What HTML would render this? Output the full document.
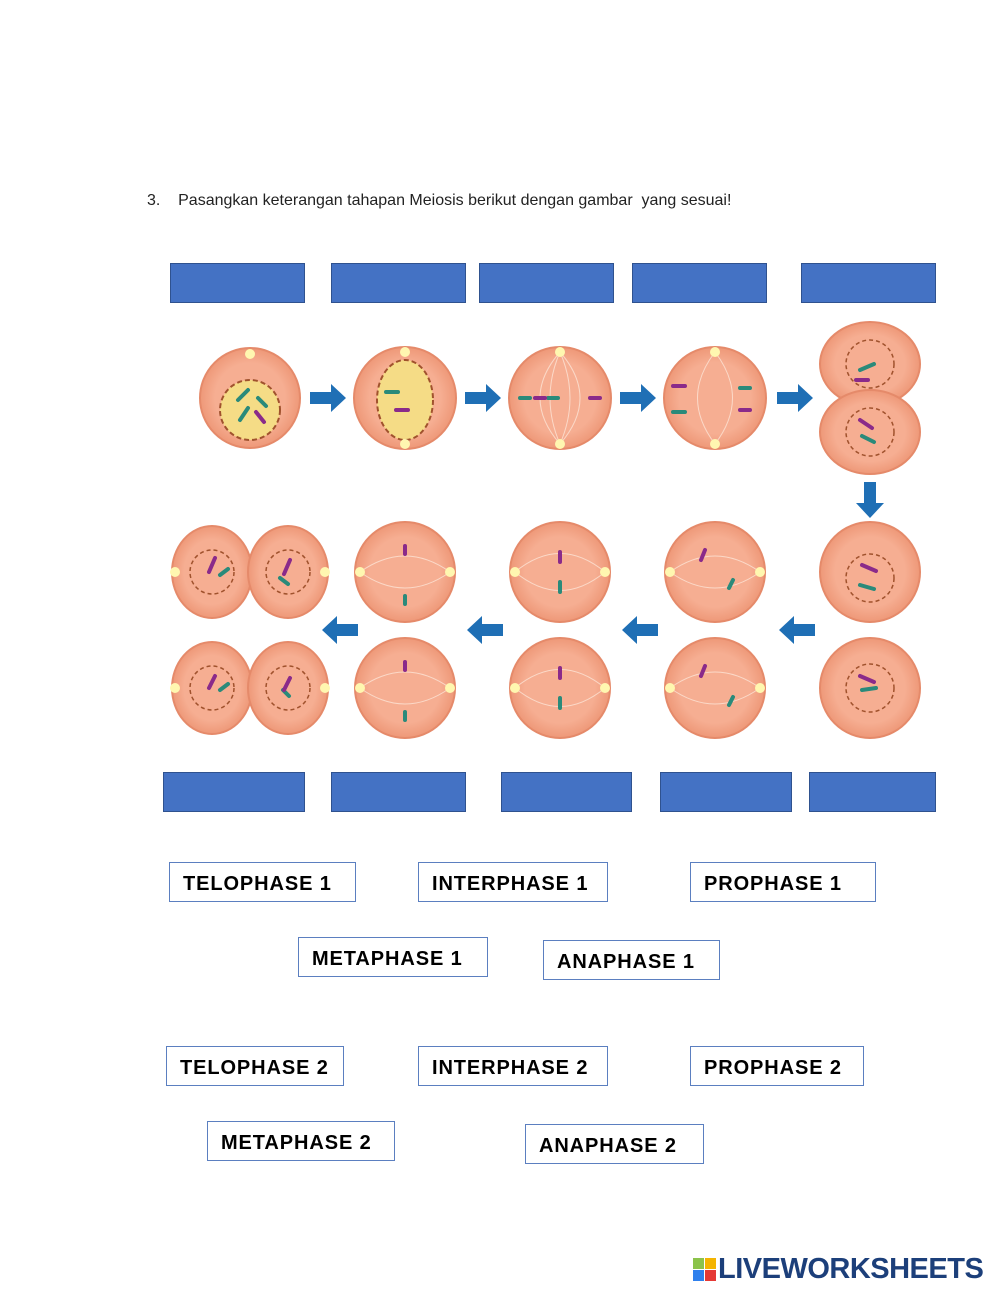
<!DOCTYPE html>
<html><head><style>
body{margin:0;background:#fff;width:1000px;height:1294px;position:relative;overflow:hidden;font-family:"Liberation Sans",sans-serif}
.q{position:absolute;left:147px;top:192px;font-size:16px;color:#222}
.b{position:absolute;background:#4472c4;border:1.5px solid #2f528f;box-sizing:border-box;height:40px}
.l{position:absolute;border:1.5px solid #5b7fc0;box-sizing:border-box;height:40px;font-weight:bold;font-size:20px;letter-spacing:0.9px;color:#000;padding-left:13px;line-height:42px;background:#fff;white-space:nowrap}
.logo{position:absolute;left:718px;top:1253px;font-weight:bold;font-size:29px;color:#1c3f7a;letter-spacing:-0.5px}
</style></head><body>
<div class="q">3.&nbsp;&nbsp;&nbsp; Pasangkan keterangan tahapan Meiosis berikut dengan gambar&nbsp; yang sesuai!</div>
<div class="b" style="left:170px;top:263px;width:135px"></div>
<div class="b" style="left:331px;top:263px;width:135px"></div>
<div class="b" style="left:479px;top:263px;width:135px"></div>
<div class="b" style="left:632px;top:263px;width:135px"></div>
<div class="b" style="left:801px;top:263px;width:135px"></div>
<div class="b" style="left:163px;top:772px;width:142px"></div>
<div class="b" style="left:331px;top:772px;width:135px"></div>
<div class="b" style="left:501px;top:772px;width:131px"></div>
<div class="b" style="left:660px;top:772px;width:132px"></div>
<div class="b" style="left:809px;top:772px;width:127px"></div>
<svg style="position:absolute;left:0;top:0" width="1000" height="1294">
<defs>
<g id="ar"><path d="M-18,-6 L3,-6 L3,-14 L18,0 L3,14 L3,6 L-18,6 Z" fill="#1f6fb5"/></g>
<radialGradient id="cg"><stop offset="0.7" stop-color="#f6ae92"/><stop offset="1" stop-color="#ee9878"/></radialGradient>
</defs>
<g stroke="#e58a6a" stroke-width="2" fill="url(#cg)">
<circle cx="250" cy="398" r="50"/><circle cx="405" cy="398" r="51"/><circle cx="560" cy="398" r="51"/><circle cx="715" cy="398" r="51"/>
<ellipse cx="870" cy="364" rx="50" ry="42"/><ellipse cx="870" cy="432" rx="50" ry="42"/>
<ellipse cx="212" cy="572" rx="40" ry="46"/><ellipse cx="288" cy="572" rx="40" ry="46"/>
<ellipse cx="212" cy="688" rx="40" ry="46"/><ellipse cx="288" cy="688" rx="40" ry="46"/>
<circle cx="405" cy="572" r="50"/><circle cx="560" cy="572" r="50"/><circle cx="715" cy="572" r="50"/><circle cx="870" cy="572" r="50"/>
<circle cx="405" cy="688" r="50"/><circle cx="560" cy="688" r="50"/><circle cx="715" cy="688" r="50"/><circle cx="870" cy="688" r="50"/>
</g>
<g fill="none" stroke="#fde4d6" stroke-width="1" opacity="0.8">
<path d="M560,352 Q520,398 560,444 M560,352 Q600,398 560,444 M560,352 Q540,398 560,444 M560,352 Q580,398 560,444 M715,352 Q680,398 715,444 M715,352 Q750,398 715,444"/>
<path d="M360,572 Q405,540 450,572 M360,572 Q405,604 450,572 M515,572 Q560,535 605,572 M515,572 Q560,609 605,572 M670,572 Q715,540 760,572 M670,572 Q715,604 760,572"/>
<path d="M360,688 Q405,656 450,688 M360,688 Q405,720 450,688 M515,688 Q560,651 605,688 M515,688 Q560,725 605,688 M670,688 Q715,656 760,688 M670,688 Q715,720 760,688"/>
</g>
<circle cx="250" cy="410" r="30" fill="#f5dc86" stroke="#a0522d" stroke-dasharray="5 3" stroke-width="2"/>
<ellipse cx="405" cy="400" rx="28" ry="40" fill="#f5dc86" stroke="#a0522d" stroke-dasharray="5 3" stroke-width="2"/>
<g fill="none" stroke="#a0522d" stroke-dasharray="4 3" stroke-width="1.5">
<circle cx="870" cy="364" r="24"/><circle cx="870" cy="432" r="24"/>
<circle cx="212" cy="572" r="22"/><circle cx="288" cy="572" r="22"/><circle cx="212" cy="688" r="22"/><circle cx="288" cy="688" r="22"/>
<circle cx="870" cy="578" r="24"/><circle cx="870" cy="688" r="24"/>
</g>
<g stroke="#2a8a7a" stroke-width="4" stroke-linecap="round">
<path d="M238,400 l10,-10 M240,420 l8,-12 M258,398 l8,8 M386,392 l12,0 M520,398 l10,0 M548,398 l10,0 M673,412 l12,0 M740,388 l10,0 M860,370 l14,-6 M862,436 l12,6 M220,575 l8,-6 M280,578 l8,6 M220,690 l8,-6 M283,690 l6,6 M560,582 l0,10 M560,698 l0,10 M733,580 l-4,8 M733,697 l-4,8 M405,596 l0,8 M405,712 l0,8 M860,585 l14,4 M862,690 l14,-2"/>
</g>
<g stroke="#8a2a8a" stroke-width="4" stroke-linecap="round">
<path d="M256,412 l8,10 M396,410 l12,0 M535,398 l10,0 M590,398 l10,0 M673,386 l12,0 M740,410 l10,0 M856,380 l12,0 M860,420 l12,8 M215,558 l-6,14 M290,560 l-6,14 M215,676 l-6,12 M290,678 l-6,12 M560,552 l0,10 M560,668 l0,10 M705,550 l-4,10 M705,666 l-4,10 M405,546 l0,8 M405,662 l0,8 M862,565 l14,6 M860,676 l14,6"/>
</g>
<g fill="#fff7b0"><circle cx="250" cy="354" r="5"/><circle cx="405" cy="352" r="5"/><circle cx="405" cy="444" r="5"/><circle cx="560" cy="352" r="5"/><circle cx="560" cy="444" r="5"/><circle cx="715" cy="352" r="5"/><circle cx="715" cy="444" r="5"/><circle cx="175" cy="572" r="5"/><circle cx="325" cy="572" r="5"/><circle cx="175" cy="688" r="5"/><circle cx="325" cy="688" r="5"/><circle cx="360" cy="572" r="5"/><circle cx="450" cy="572" r="5"/><circle cx="515" cy="572" r="5"/><circle cx="605" cy="572" r="5"/><circle cx="670" cy="572" r="5"/><circle cx="760" cy="572" r="5"/><circle cx="360" cy="688" r="5"/><circle cx="450" cy="688" r="5"/><circle cx="515" cy="688" r="5"/><circle cx="605" cy="688" r="5"/><circle cx="670" cy="688" r="5"/><circle cx="760" cy="688" r="5"/></g>
<use href="#ar" x="328" y="398"/><use href="#ar" x="483" y="398"/><use href="#ar" x="638" y="398"/><use href="#ar" x="795" y="398"/>
<use href="#ar" transform="translate(870,500) rotate(90)"/>
<use href="#ar" transform="translate(340,630) rotate(180)"/><use href="#ar" transform="translate(485,630) rotate(180)"/><use href="#ar" transform="translate(640,630) rotate(180)"/><use href="#ar" transform="translate(797,630) rotate(180)"/>
</svg>
<div class="l" style="left:169px;top:862px;width:187px">TELOPHASE 1</div>
<div class="l" style="left:418px;top:862px;width:190px">INTERPHASE 1</div>
<div class="l" style="left:690px;top:862px;width:186px">PROPHASE 1</div>
<div class="l" style="left:298px;top:937px;width:190px">METAPHASE 1</div>
<div class="l" style="left:543px;top:940px;width:177px">ANAPHASE 1</div>
<div class="l" style="left:166px;top:1046px;width:178px">TELOPHASE 2</div>
<div class="l" style="left:418px;top:1046px;width:190px">INTERPHASE 2</div>
<div class="l" style="left:690px;top:1046px;width:174px">PROPHASE 2</div>
<div class="l" style="left:207px;top:1121px;width:188px">METAPHASE 2</div>
<div class="l" style="left:525px;top:1124px;width:179px">ANAPHASE 2</div>
<svg style="position:absolute;left:693px;top:1258px" width="24" height="24"><rect width="11" height="11" fill="#8bc34a"/><rect x="12" width="11" height="11" fill="#f4b400"/><rect y="12" width="11" height="11" fill="#2f80ed"/><rect x="12" y="12" width="11" height="11" fill="#e53935"/></svg>
<div class="logo">LIVEWORKSHEETS</div>
</body></html>
